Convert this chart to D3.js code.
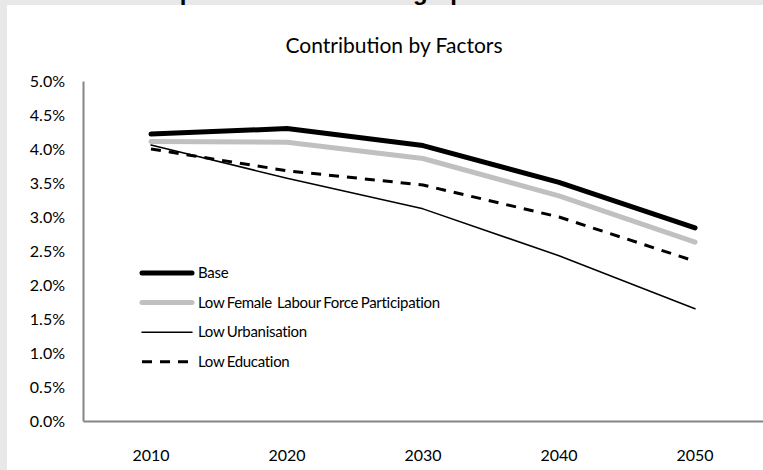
<!DOCTYPE html>
<html>
<head>
<meta charset="utf-8">
<script src="https://cdn.jsdelivr.net/npm/d3@7"></script>
<style>
  body { margin: 0; background: #e8e8e8; }
  svg { display: block; font-family: Lato, "Liberation Sans", sans-serif; }
</style>
</head>
<body>
<svg id="chart" width="763" height="470"></svg>
<script>
// dati
const years = ["2010", "2020", "2030", "2040", "2050"];
const base = [4.22, 4.30, 4.05, 3.51, 2.84];
const lowFemale = [4.11, 4.10, 3.86, 3.31, 2.63];
const lowUrban = [4.06, 3.57, 3.12, 2.43, 1.65];
const lowEducation = [4.00, 3.68, 3.47, 3.00, 2.35];
const yTicks = [0, 0.5, 1, 1.5, 2, 2.5, 3, 3.5, 4, 4.5, 5];

const seriesNames = ["Base", "Low Female  Labour Force Participation", "Low Urbanisation", "Low Education"];
const seriesValues = [base, lowFemale, lowUrban, lowEducation];
const seriesStyle = [
  { color: "#000", width: 5, dash: null },
  { color: "#c0c0c0", width: 5, dash: null },
  { color: "#000", width: 1.5, dash: null },
  { color: "#000", width: 3, dash: "10,8" }
];

const width = 763, height = 470;
const svg = d3.select("#chart");

// pannello bianco
svg.append("rect")
  .attr("x", 7).attr("y", 5)
  .attr("width", width - 7).attr("height", height - 5)
  .attr("fill", "#fff");

// titolo principale tagliato in alto (si vedono solo le code delle lettere)
svg.append("clipPath").attr("id", "topclip")
  .append("rect").attr("x", 0).attr("y", 0).attr("width", width).attr("height", 5);
const bigTitle = svg.append("text")
  .attr("clip-path", "url(#topclip)")
  .attr("font-family", "Liberation Sans, Arial, sans-serif")
  .attr("font-weight", "bold")
  .attr("font-size", 24)
  .attr("y", 0)
  .text("Impact of Future Demographic Trends");
// allinea la "p" di Impact
const offs = bigTitle.node().getSubStringLength(0, 2) + bigTitle.node().getSubStringLength(2, 1) / 2;
bigTitle.attr("x", 187 - offs);

svg.append("text")
  .attr("x", 394).attr("y", 53)
  .attr("text-anchor", "middle")
  .attr("font-size", 21)
  .attr("fill", "#000")
  .text("Contribution by Factors");

const x = d3.scaleBand().domain(years).range([83, 763]);
const y = d3.scaleLinear().domain([0, 5]).range([421, 81]);

const yAxis = svg.append("g")
  .attr("transform", "translate(83,0)")
  .call(d3.axisLeft(y).tickValues(yTicks).tickSize(0).tickPadding(18)
    .tickFormat(d => d.toFixed(1) + "%"));
yAxis.attr("font-family", null).attr("font-size", 16);
yAxis.select(".domain").attr("stroke", "#868686").attr("stroke-width", 2);
yAxis.selectAll("text").attr("fill", "#000");

const xAxis = svg.append("g")
  .attr("transform", "translate(0,421)")
  .call(d3.axisBottom(x).tickSize(0).tickPadding(29));
xAxis.attr("font-family", null).attr("font-size", 16);
xAxis.select(".domain").attr("stroke", "#868686").attr("stroke-width", 2);
xAxis.selectAll("text").attr("fill", "#000");

const line = d3.line()
  .x((d, i) => x(years[i]) + x.bandwidth() / 2)
  .y(d => y(d));

seriesValues.forEach((vals, k) => {
  const st = seriesStyle[k];
  svg.append("path")
    .datum(vals)
    .attr("d", line)
    .attr("fill", "none")
    .attr("stroke", st.color)
    .attr("stroke-width", st.width)
    .attr("stroke-linecap", st.dash ? "butt" : "round")
    .attr("stroke-linejoin", "round")
    .attr("stroke-dasharray", st.dash);
});

// legenda
const legend = svg.append("g").attr("transform", "translate(142,273)");
seriesNames.forEach((name, k) => {
  const st = seriesStyle[k];
  const row = legend.append("g").attr("transform", `translate(0,${k * 29.6})`);
  row.append("line")
    .attr("x1", 0).attr("x2", 50)
    .attr("stroke", st.color)
    .attr("stroke-width", st.width)
    .attr("stroke-linecap", st.dash ? "butt" : "round")
    .attr("stroke-dasharray", st.dash);
  row.append("text")
    .attr("x", 56).attr("dy", "0.35em")
    .attr("font-size", 15)
    .attr("word-spacing", -1)
    .attr("letter-spacing", -0.3)
    .style("white-space", "pre")
    .text(name);
});
</script>
</body>
</html>
